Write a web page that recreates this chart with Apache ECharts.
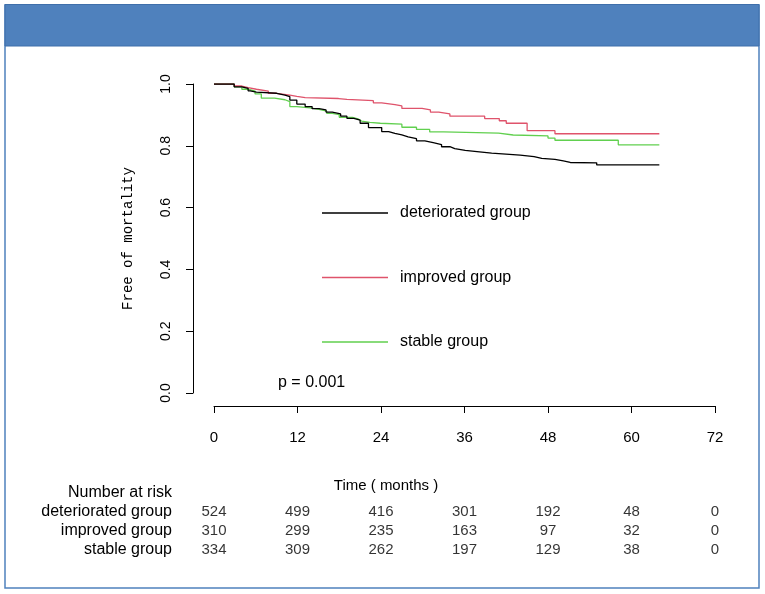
<!DOCTYPE html>
<html>
<head>
<meta charset="utf-8">
<script src="https://cdn.jsdelivr.net/npm/echarts@6.0.0/dist/echarts.min.js"></script>
<style>
html,body{margin:0;padding:0;background:#fff;}
#chart{width:765px;height:594px;}
</style>
</head>
<body>
<div id="chart"></div>
<script>
// ---- data ----
const groupNames = ['deteriorated group', 'improved group', 'stable group'];
const groupColors = ['#000000', '#DF536B', '#61D04F'];

// Kaplan-Meier steps: [time (months), survival from that time on]
const deterioratedCurve = [
  [0, 1.0], [2.9, 0.991], [4.0, 0.986], [4.9, 0.978], [5.2, 0.974], [6.1, 0.970],
  [9.0, 0.964], [10.2, 0.959], [10.9, 0.948], [11.9, 0.935], [13.1, 0.927],
  [14.1, 0.920], [15.1, 0.916], [16.1, 0.909], [17.0, 0.903], [18.2, 0.896],
  [19.1, 0.889], [20.1, 0.883], [21.0, 0.873], [22.2, 0.859], [24.1, 0.846],
  [25.1, 0.840], [26.0, 0.835], [27.0, 0.829], [27.9, 0.823], [29.1, 0.816],
  [30.3, 0.810], [31.5, 0.804], [32.7, 0.797], [33.9, 0.791], [34.6, 0.785],
  [36.1, 0.781], [37.8, 0.776], [39.9, 0.770], [44.0, 0.765], [46.0, 0.759],
  [47.1, 0.756], [49.0, 0.751], [50.2, 0.746], [51.2, 0.745], [55.0, 0.738],
  [64.0, 0.738]
];
const improvedCurve = [
  [0, 1.0], [2.9, 0.9935], [4.0, 0.988], [4.9, 0.983], [6.1, 0.977], [7.8, 0.970],
  [9.0, 0.964], [10.9, 0.960], [11.9, 0.956], [13.1, 0.953], [17.9, 0.950],
  [19.1, 0.946], [22.9, 0.939], [24.1, 0.933], [26.0, 0.929], [27.0, 0.921],
  [29.9, 0.916], [31.1, 0.909], [32.3, 0.903], [33.9, 0.896], [38.9, 0.888],
  [41.0, 0.881], [42.0, 0.873], [45.0, 0.849], [49.0, 0.839], [64.0, 0.839]
];
const stableCurve = [
  [0, 1.0], [2.9, 0.991], [4.0, 0.983], [4.9, 0.977], [5.9, 0.968], [6.8, 0.954],
  [8.7, 0.949], [10.2, 0.943], [10.9, 0.927], [11.9, 0.923], [13.8, 0.918],
  [15.1, 0.912], [16.2, 0.905], [17.0, 0.901], [18.0, 0.892], [19.9, 0.886],
  [20.8, 0.880], [21.2, 0.876], [22.4, 0.873], [23.9, 0.870], [27.0, 0.860],
  [29.1, 0.853], [31.0, 0.845], [33.0, 0.841], [40.9, 0.835], [43.0, 0.832],
  [48.0, 0.825], [49.0, 0.818], [58.1, 0.803], [64.0, 0.803]
];

// Number at risk table
const riskTimes = [0, 12, 24, 36, 48, 60, 72];
const riskDeteriorated = [524, 499, 416, 301, 192, 48, 0];
const riskImproved = [310, 299, 235, 163, 97, 32, 0];
const riskStable = [334, 309, 262, 197, 129, 38, 0];

const xTicks = { min: 0, max: 72, step: 12 };
const yTicks = { min: 0, max: 1, step: 0.2 };

const pValueText = 'p = 0.001';
const xTitle = 'Time ( months )';
const yTitle = 'Free of mortality';
const riskTitle = 'Number at risk';

// ---- chart ----
const curves = [deterioratedCurve, improvedCurve, stableCurve];
const risks = [riskDeteriorated, riskImproved, riskStable];
const sans = '"Liberation Sans", Arial, sans-serif';
const legendLineIcon = 'path://M0,0 L0.001,0 L0.001,16 L0,16 Z M0,7.25 L66,7.25 L66,8.75 L0,8.75 Z';

const chart = echarts.init(document.getElementById('chart'), null, { renderer: 'canvas' });

const series = [];
curves.forEach((c, i) => {
  series.push({
    name: groupNames[i],
    type: 'line',
    xAxisIndex: 0, yAxisIndex: 0,
    step: 'end',
    symbol: 'none',
    data: c,
    lineStyle: { color: groupColors[i], width: 1.3 },
    itemStyle: { color: groupColors[i] },
    silent: true,
    z: 3 - i + 2
  });
});
risks.forEach((r, i) => {
  series.push({
    name: 'risk-' + i,
    type: 'scatter',
    xAxisIndex: 1, yAxisIndex: 1,
    symbolSize: 1,
    itemStyle: { color: 'rgba(0,0,0,0)' },
    silent: true,
    data: riskTimes.map((t, j) => [t, groupNames[i], r[j]]),
    label: {
      show: true, position: 'inside',
      formatter: p => String(p.value[2]),
      color: '#000', fontSize: 15, fontFamily: sans
    }
  });
});

chart.setOption({
  animation: false,
  backgroundColor: '#ffffff',
  grid: [
    { left: 214, right: 50, top: 84, bottom: 201 },
    { left: 214, right: 50, top: 502.5, height: 57 }
  ],
  xAxis: [
    {
      gridIndex: 0, type: 'value',
      min: xTicks.min, max: xTicks.max, interval: xTicks.step,
      offset: 13,
      axisLine: { show: true, onZero: false, lineStyle: { color: '#000', width: 1 } },
      axisTick: { show: true, length: 7, lineStyle: { color: '#000', width: 1 } },
      axisLabel: { color: '#000', fontSize: 15, fontFamily: sans, margin: 24 },
      splitLine: { show: false }
    },
    {
      gridIndex: 1, type: 'value',
      min: xTicks.min, max: xTicks.max, show: false
    }
  ],
  yAxis: [
    {
      gridIndex: 0, type: 'value',
      min: yTicks.min, max: yTicks.max, interval: yTicks.step,
      offset: 21,
      name: yTitle, nameLocation: 'middle', nameRotate: 90, nameGap: 58,
      nameTextStyle: { color: '#000', fontSize: 14, fontFamily: '"Liberation Mono", "DejaVu Sans Mono", monospace' },
      axisLine: { show: true, onZero: false, lineStyle: { color: '#000', width: 1 } },
      axisTick: { show: true, length: 7, lineStyle: { color: '#000', width: 1 } },
      axisLabel: {
        color: '#000', fontSize: 14, fontFamily: sans, rotate: 90, margin: 20,
        formatter: v => v.toFixed(1)
      },
      splitLine: { show: false }
    },
    {
      gridIndex: 1, type: 'category', inverse: true,
      data: groupNames,
      axisLine: { show: false }, axisTick: { show: false }, splitLine: { show: false },
      axisLabel: { color: '#000', fontSize: 16, fontFamily: sans, margin: 42, interval: 0 }
    }
  ],
  legend: {
    data: groupNames.map(n => ({ name: n, icon: legendLineIcon })),
    orient: 'vertical',
    left: 322, top: 205, padding: 0,
    itemWidth: 66, itemHeight: 16, itemGap: 48.5,
    selectedMode: false,
    textStyle: { color: '#000', fontSize: 16, fontFamily: sans, lineHeight: 16, padding: [0, 0, 0, 7] }
  },
  graphic: [
    {
      type: 'rect', silent: true, z: -10,
      shape: { x: 5, y: 5, width: 754, height: 583 },
      style: { fill: '#ffffff', stroke: '#4F81BD', lineWidth: 1.5 }
    },
    {
      type: 'rect', silent: true, z: -9,
      shape: { x: 5, y: 4.5, width: 754, height: 41.5 },
      style: { fill: '#4F81BD', stroke: '#3F6FAA', lineWidth: 1 }
    },
    {
      type: 'text', silent: true, left: 278, top: 375,
      style: { text: pValueText, fill: '#000', font: '16px ' + sans }
    },
    {
      type: 'text', silent: true, x: 386, y: 486,
      style: { text: xTitle, fill: '#000', font: '15px ' + sans, textAlign: 'center', textVerticalAlign: 'middle' }
    },
    {
      type: 'text', silent: true, x: 172, y: 493,
      style: { text: riskTitle, fill: '#000', font: '16px ' + sans, textAlign: 'right', textVerticalAlign: 'middle' }
    }
  ],
  series: series
});
</script>
</body>
</html>
